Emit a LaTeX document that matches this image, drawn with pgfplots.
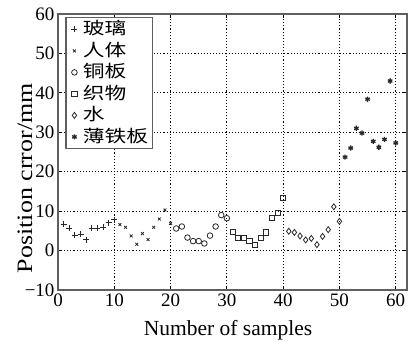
\documentclass[border=0pt]{standalone}
\usepackage{pgfplots}
\pgfplotsset{compat=1.18}
\usepackage{fontspec}
\usepackage{graphicx}
\setmainfont{Liberation Serif}
\newfontfamily\cjk{Noto Sans CJK SC}
\definecolor{axgray}{RGB}{95,95,95}
\definecolor{mk}{RGB}{40,40,40}
\newcommand{\lgt}[1]{\scalebox{1.28}[1]{#1}}
\begin{document}
\begin{tikzpicture}
\path[use as bounding box] (-58pt,-52pt) rectangle (354pt,290pt);
\begin{axis}[
  scale only axis, width=349pt, height=276pt,
  at={(0,0)}, anchor=south west,
  xmin=0, xmax=62, ymin=-10, ymax=60,
  xtick={0,10,20,30,40,50,60}, ytick={-10,0,10,20,30,40,50,60},
  xticklabels={0,10,20,30,40,50,60},
  yticklabels={−10,0,10,20,30,40,50,60},
  tick label style={font=\fontsize{19}{21}\selectfont},
  tick align=inside, major tick length=4pt,
  tick style={black, line width=0.9pt},
  grid=major, grid style={black, line width=1.1pt, dotted},
  axis line style={axgray, line width=1.6pt},
  xlabel={Number of samples},
  ylabel={\scalebox{1.18}[1]{Position crror/mm}},
  every axis x label/.style={at={(axis description cs:0.487,-0.145)}, anchor=center, font=\fontsize{21.5}{24}\selectfont},
  every axis y label/.style={at={(axis description cs:-0.0946,0.405)}, anchor=center, rotate=90, font=\fontsize{22}{24}\selectfont},
  legend cell align=left,
  legend image code/.code={\path[draw=none,fill=none] (0pt,-3pt) rectangle (11pt,3pt); \draw plot coordinates {(5.5pt,0pt)};},
  legend style={at={(axis description cs:0.021,0.989)}, anchor=north west,
    draw=axgray, line width=1.2pt, fill=white,
    font=\cjk\fontsize{17}{20}\selectfont, inner xsep=3pt, inner ysep=1pt, row sep=0pt,
    nodes={inner sep=1pt, text height=15pt, text depth=4.5pt},
    /tikz/every odd column/.style={column sep=2pt},
    /tikz/every even column/.style={column sep=5pt}},
  every axis plot/.append style={only marks, mk, line width=0.8pt},
]
\addplot[mark=+, mark size=3pt] coordinates {
(1,6.7) (2,5.6) (3,3.9) (4,4.2) (5,2.8) (6,5.6) (7,5.6) (8,5.9) (9,7.1) (10,7.8)};
\addlegendentry{\lgt{玻璃}}
\addplot[mark=x, mark size=2pt] coordinates {
(11,6.6) (12,5.9) (13,3.7) (14,1.6) (15,4.3) (16,2.8) (17,5.9) (18,8.0) (19,10.3) (20,6.9)};
\addlegendentry{\lgt{人体}}
\addplot[mark=o, mark size=2.8pt] coordinates {
(21,5.6) (22,6.1) (23,3.3) (24,2.4) (25,2.4) (26,1.8) (27,3.8) (28,6.1) (29,9.0) (30,8.2)};
\addlegendentry{\lgt{铜板}}
\addplot[mark=square, mark size=2.6pt] coordinates {
(31,4.8) (32,3.2) (33,3.2) (34,2.5) (35,1.5) (36,3.3) (37,4.6) (38,8.3) (39,9.5) (40,13.4)};
\addlegendentry{\lgt{织物}}
\addplot[mark=diamond, mark size=3pt] coordinates {
(41,4.9) (42,4.6) (43,3.7) (44,2.7) (45,3.1) (46,1.5) (47,3.6) (48,5.3) (49,11.1) (50,7.4)};
\addlegendentry{\lgt{水}}
\addplot[mark=asterisk, mark size=2.6pt, line width=1.3pt] coordinates {
(51,23.7) (52,26.0) (53,31.0) (54,29.8) (55,38.4) (56,27.7) (57,26.2) (58,28.2) (59,43.0) (60,27.3)};
\addlegendentry{\lgt{薄铁板}}
\end{axis}
\end{tikzpicture}
\end{document}
